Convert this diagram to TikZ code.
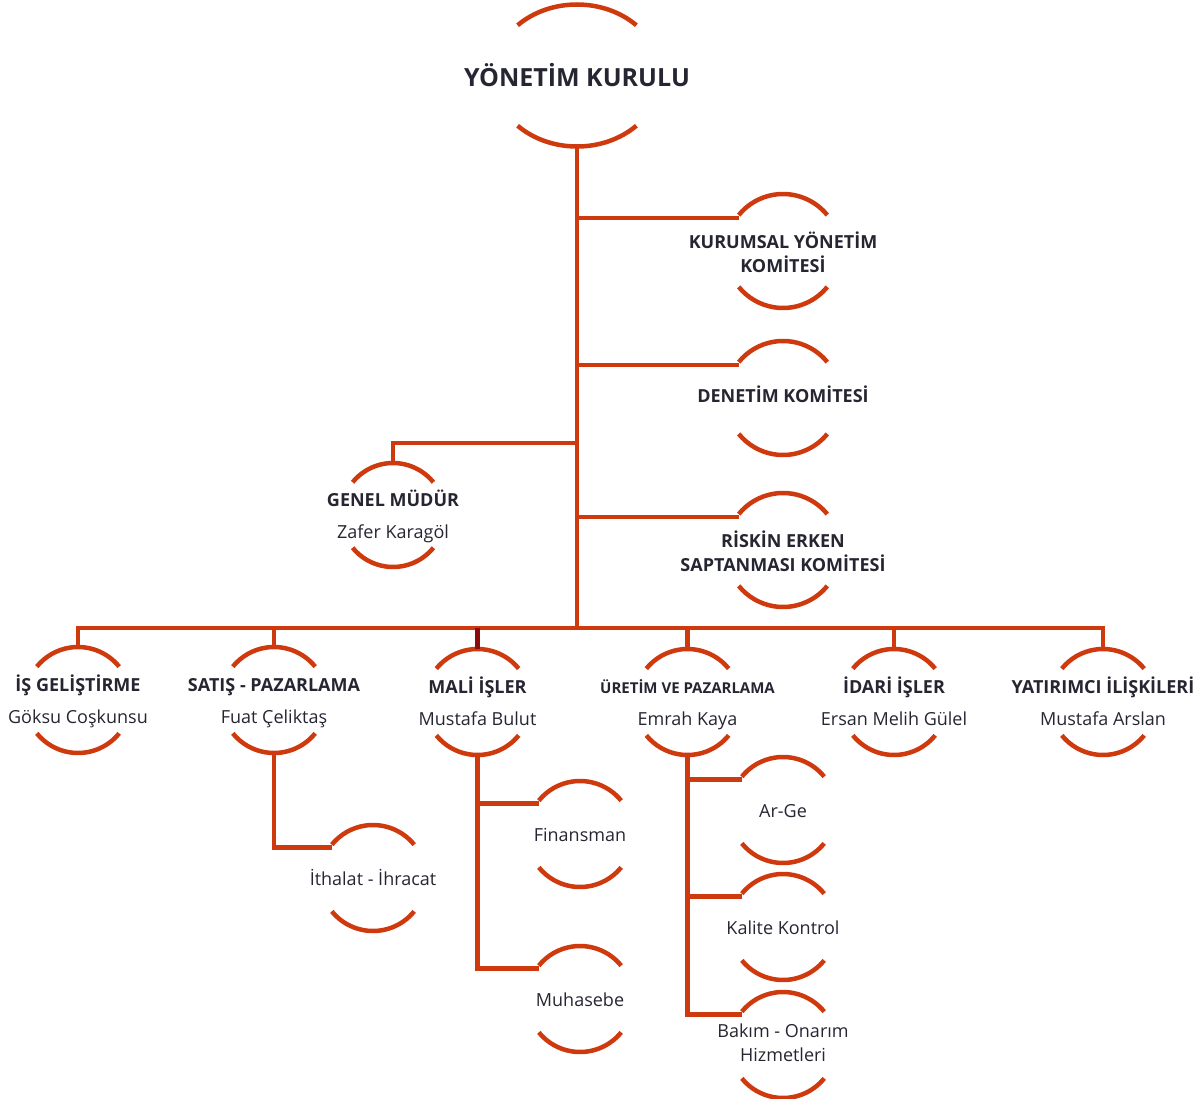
\documentclass[tikz,border=0pt]{standalone}
\usepackage{fontspec}
\setmainfont{Open Sans}
\usetikzlibrary{calc}
\definecolor{kiremit}{RGB}{206,58,14}
\definecolor{bordo}{RGB}{140,10,10}
\definecolor{murekkep}{RGB}{38,38,50}
% taller strut for the first line, pushes the text a little down
\newcommand{\ustrut}{\rule{0pt}{23pt}}
\newcommand{\kstrut}{\rule{0pt}{25.5pt}}

\begin{document}
\begin{tikzpicture}[x=1pt,y=-1pt,
  bag/.style={draw=kiremit,line width=4.5pt},
  hat/.style={draw=kiremit,line width=4.5pt},
  birim/.style={rectangle,inner sep=0pt,outer sep=0pt,minimum height=106,align=center,
    text=murekkep,font=\fontsize{18}{24}\selectfont},
  kurul/.style={birim,font=\bfseries\fontsize{18}{24}\selectfont}]
\useasboundingbox (0,0) rectangle (1202,1099);
% board on top, its arcs are a bit wider than the others
\node[kurul,minimum height=142,font=\bfseries\fontsize{25}{30}\selectfont] (yk) at (577,75.5) {YÖNETİM KURULU};
\draw[hat] ([shift={(-45:84 and 71)}]yk.center) arc[start angle=-45,end angle=-135,x radius=84,y radius=71];
\draw[hat] ([shift={(45:84 and 71)}]yk.center) arc[start angle=45,end angle=135,x radius=84,y radius=71];
% committees on the right of the trunk
\foreach \n/\y/\t in {kyk/251/{KURUMSAL YÖNETİM\kstrut\\KOMİTESİ\strut},den/398/{DENETİM KOMİTESİ\strut},
    ris/550/{RİSKİN ERKEN\kstrut\\SAPTANMASI KOMİTESİ\strut}}
  \node[kurul,minimum height=114] (\n) at (783,\y) {\t};
\node[birim,minimum height=104] (gm) at (393,515) {\textbf{GENEL MÜDÜR}\ustrut\\[8pt]Zafer Karagöl\strut};
% departments
\foreach \n/\x/\y/\t/\a in {is/78/700/İŞ GELİŞTİRME/Göksu Coşkunsu,sp/274/700/SATIŞ - PAZARLAMA/Fuat Çeliktaş,
    mi/477.5/702/MALİ İŞLER/Mustafa Bulut,ii/894/702/İDARİ İŞLER/Ersan Melih Gülel,
    yi/1103/702/YATIRIMCI İLİŞKİLERİ/Mustafa Arslan}
  \node[birim] (\n) at (\x,\y) {\textbf{\t}\ustrut\\[8pt]\a\strut};
\node[birim] (up) at (687.5,702) {\ustrut\textbf{\fontsize{15}{18}\selectfont ÜRETİM VE PAZARLAMA}\\[8pt]Emrah Kaya\strut};
% sub units
\foreach \n/\x/\y/\t in {ith/373/878/İthalat - İhracat,fin/580/834/Finansman,muh/580/999/Muhasebe,
    arge/783/810/Ar-Ge,kk/783/927/Kalite Kontrol}
  \node[birim] (\n) at (\x,\y) {\ustrut\t\strut};
\node[birim] (bak) at (783,1045) {\strut Bakım - Onarım\\Hizmetleri\strut};
% upper and lower arc of every unit, (n-l) is where a branch meets the upper arc
\foreach \n/\r in {kyk/57,den/57,ris/57,gm/52,is/53,sp/53,mi/53,up/53,ii/53,yi/53,
    ith/53,fin/53,muh/53,arge/53,kk/53,bak/53} {
  \draw[hat] ([shift={(-39:\r)}]\n.center) arc[start angle=-39,end angle=-141,radius=\r];
  \draw[hat] ([shift={(39:\r)}]\n.center) arc[start angle=39,end angle=141,radius=\r];
  \coordinate (\n-l) at ($(\n.center)+(-0.77*\r,-0.58*\r)$);
}
% trunk and bus
\coordinate (bus) at (577,628);
\draw[bag] (yk.south) -- (bus);
\draw[bag] (is.north) |- (bus) -| (yi.north);
\foreach \n in {sp,up,ii} \draw[bag] (\n.north) -- (\n.north |- bus);
\draw[bag,draw=bordo] (mi.north) -- (mi.north |- bus);
\foreach \n in {kyk,den,ris} \draw[bag] (\n-l) -- (\n-l -| yk.south);
\draw[bag] (gm.north) -- ++(0,-20) coordinate (gmk) -- (gmk -| yk.south);
% branches below the departments
\draw[bag] (sp.south) |- (ith-l);
\draw[bag] (mi.south) |- (muh-l);
\draw[bag] (fin-l) -- (fin-l -| mi.south);
\draw[bag] (up.south) |- (bak-l);
\foreach \n in {arge,kk} \draw[bag] (\n-l) -- (\n-l -| up.south);
\end{tikzpicture}
\end{document}
